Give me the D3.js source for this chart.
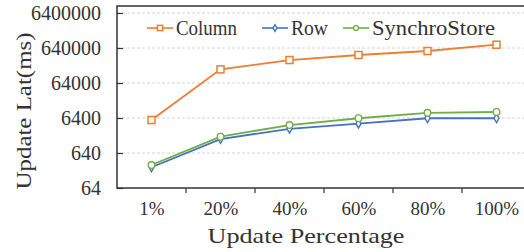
<!DOCTYPE html>
<html>
<head>
<meta charset="utf-8">
<script src="https://cdn.jsdelivr.net/npm/d3@7"></script>
<style>
  body { margin: 0; background: #fff; }
  svg text { font-family: "Liberation Serif", serif; fill: #333; }
</style>
</head>
<body>
<div id="chart"></div>
<script>
// chart data
const CATEGORIES = ["1%", "20%", "40%", "60%", "80%", "100%"];
const COLUMN = [5600, 157000, 290000, 404000, 525000, 795000];
const ROW = [250, 1600, 3150, 4400, 6300, 6300];
const SYNCHRO = [290, 1870, 4030, 6300, 9000, 9500];
const Y_TICKS = [64, 640, 6400, 64000, 640000, 6400000];

const FRAME_WIDTH = 524;
const FRAME_HEIGHT = 252;
const MARGINS = {left: 117, right: -7, top: 6, bottom: 64};
const VIS_WIDTH = FRAME_WIDTH - MARGINS.left - MARGINS.right;
const VIS_HEIGHT = FRAME_HEIGHT - MARGINS.top - MARGINS.bottom;

const SERIES = [
  {name: "Column", values: COLUMN, color: "#ED7D31", marker: "square"},
  {name: "Row", values: ROW, color: "#4472C4", marker: "diamond"},
  {name: "SynchroStore", values: SYNCHRO, color: "#70AD47", marker: "circle"}
];

const svg = d3.select("#chart")
  .append("svg")
    .attr("width", FRAME_WIDTH)
    .attr("height", FRAME_HEIGHT);

const g = svg.append("g")
  .attr("transform", "translate(" + MARGINS.left + "," + MARGINS.top + ")");

// scales
const X_SCALE = d3.scalePoint()
  .domain(CATEGORIES)
  .range([0, VIS_WIDTH])
  .padding(0.5);

const Y_SCALE = d3.scaleLog()
  .domain([64, 64 * Math.pow(10, VIS_HEIGHT / 35)])
  .range([VIS_HEIGHT, 0]);

// grid lines
g.selectAll(".grid")
  .data(Y_TICKS.slice(1))
  .enter()
  .append("line")
    .attr("x1", 0)
    .attr("x2", VIS_WIDTH)
    .attr("y1", (d) => Y_SCALE(d))
    .attr("y2", (d) => Y_SCALE(d))
    .attr("stroke", "#d4d4d4")
    .attr("stroke-width", 1)
    .attr("stroke-dasharray", "3,2");

// frame
g.append("rect")
  .attr("x", 0)
  .attr("y", 0)
  .attr("width", VIS_WIDTH)
  .attr("height", VIS_HEIGHT)
  .attr("fill", "none")
  .attr("stroke", "#333")
  .attr("stroke-width", 1.5);

// y axis
const yAxis = g.append("g")
  .call(d3.axisLeft(Y_SCALE).tickValues(Y_TICKS).tickFormat(d3.format("d")).tickSize(-6).tickPadding(16));
yAxis.select(".domain").remove();
yAxis.selectAll("line").attr("stroke", "#333").attr("stroke-width", 1.2);
yAxis.selectAll("text")
  .attr("font-size", "20px")
  .attr("font-family", "Liberation Serif")
  .attr("fill", "#333");

// x axis: labels centred, ticks on category boundaries
const xAxis = g.append("g")
  .attr("transform", "translate(0," + VIS_HEIGHT + ")")
  .call(d3.axisBottom(X_SCALE).tickSize(0).tickPadding(14));
xAxis.select(".domain").remove();
xAxis.selectAll("text")
  .attr("font-size", "19px")
  .attr("font-family", "Liberation Serif")
  .attr("fill", "#333");

g.selectAll(".xtick")
  .data(CATEGORIES.slice(0, -1))
  .enter()
  .append("line")
    .attr("x1", (d) => X_SCALE(d) + X_SCALE.step() / 2)
    .attr("x2", (d) => X_SCALE(d) + X_SCALE.step() / 2)
    .attr("y1", VIS_HEIGHT)
    .attr("y2", VIS_HEIGHT + 5)
    .attr("stroke", "#333")
    .attr("stroke-width", 1.2);

// axis titles
svg.append("text")
  .attr("x", 306)
  .attr("y", 243)
  .attr("text-anchor", "middle")
  .attr("font-size", "21px")
  .attr("textLength", 197)
  .attr("lengthAdjust", "spacingAndGlyphs")
  .text("Update Percentage");

svg.append("text")
  .attr("transform", "translate(31,111) rotate(-90)")
  .attr("text-anchor", "middle")
  .attr("font-size", "21px")
  .attr("textLength", 157)
  .attr("lengthAdjust", "spacingAndGlyphs")
  .text("Update Lat(ms)");

// markers
function drawMarker(sel, type, color, x, y, k) {
  if (type === "square") {
    sel.append("rect")
      .attr("x", x - 3.5 * k).attr("y", y - 3.5 * k)
      .attr("width", 7 * k).attr("height", 7 * k)
      .attr("fill", "#fff").attr("stroke", color).attr("stroke-width", 1.5);
  } else if (type === "diamond") {
    sel.append("path")
      .attr("d", d3.symbol().type(d3.symbolDiamond).size(22 * k * k)())
      .attr("transform", "translate(" + x + "," + y + ")")
      .attr("fill", "#fff").attr("stroke", color).attr("stroke-width", 1.4);
  } else {
    sel.append("circle")
      .attr("cx", x).attr("cy", y).attr("r", 3.3 * k)
      .attr("fill", "#fff").attr("stroke", color).attr("stroke-width", 1.3);
  }
}

const line = d3.line()
  .x((d, i) => X_SCALE(CATEGORIES[i]))
  .y((d) => Y_SCALE(d));

SERIES.forEach((s) => {
  g.append("path")
    .datum(s.values)
    .attr("d", line)
    .attr("fill", "none")
    .attr("stroke", s.color)
    .attr("stroke-width", 1.8);
  s.values.forEach((v, i) => {
    drawMarker(g, s.marker, s.color, X_SCALE(CATEGORIES[i]), Y_SCALE(v), 1);
  });
});

// legend
const LEGEND_X = [147, 262, 343];
const LEGEND_W = [61, 37, 123];
SERIES.forEach((s, i) => {
  const lx = LEGEND_X[i];
  const ly = 28;
  svg.append("line")
    .attr("x1", lx).attr("x2", lx + 26)
    .attr("y1", ly).attr("y2", ly)
    .attr("stroke", s.color).attr("stroke-width", 1.6);
  drawMarker(svg, s.marker, s.color, lx + 13, ly, 0.75);
  svg.append("text")
    .attr("x", lx + 29)
    .attr("y", ly + 7)
    .attr("font-size", "21px")
    .attr("textLength", LEGEND_W[i])
    .attr("lengthAdjust", "spacingAndGlyphs")
    .text(s.name);
});
</script>
</body>
</html>
